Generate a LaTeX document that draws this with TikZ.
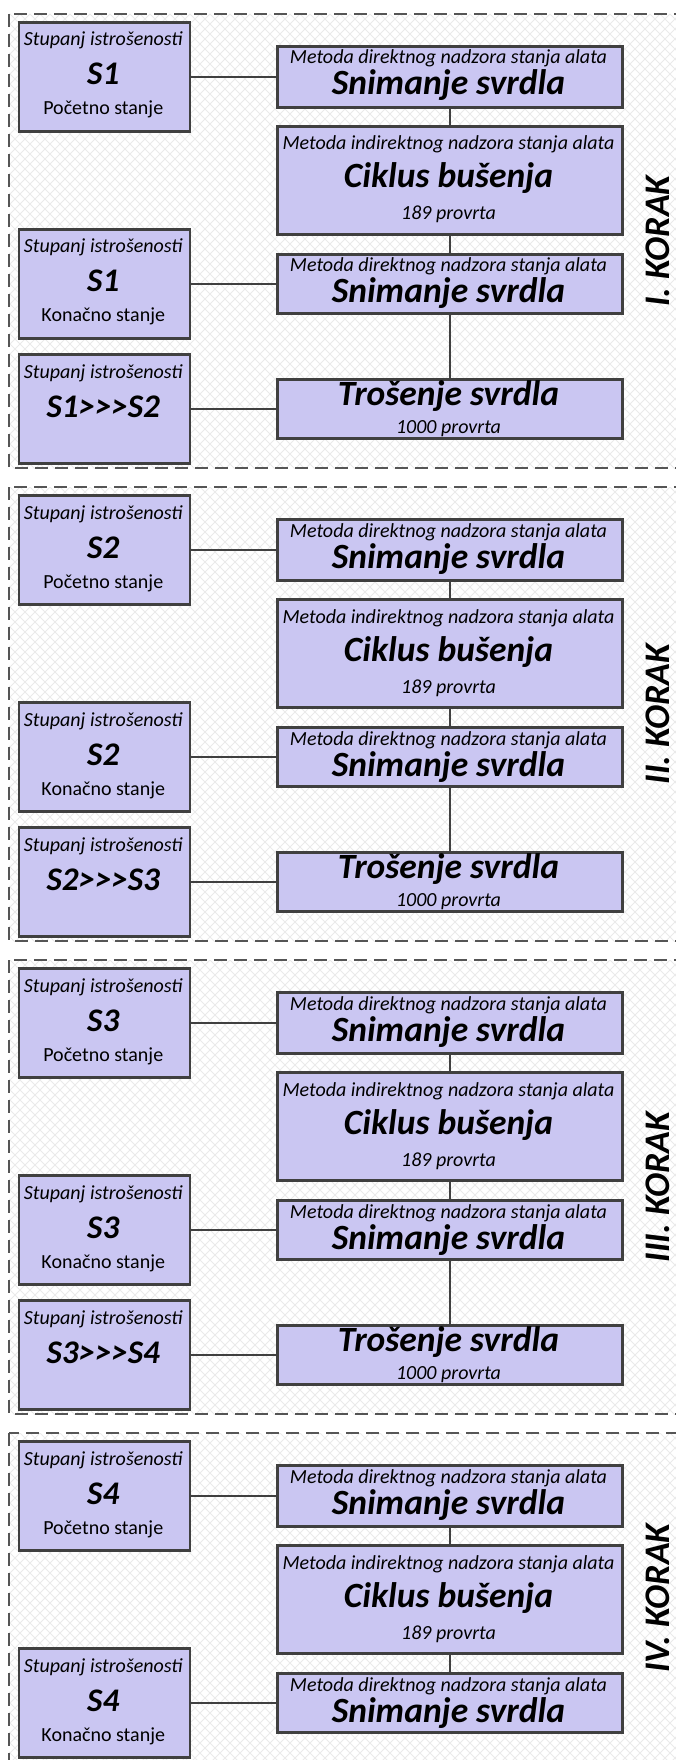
\documentclass[tikz,border=0pt]{standalone}
\usepackage{fontspec}
\setmainfont{Carlito}
\definecolor{boxfill}{RGB}{202,198,242}
\definecolor{bordercol}{RGB}{64,64,64}
\definecolor{dashcol}{RGB}{85,85,85}
\definecolor{bgcol}{RGB}{234,234,234}
\tikzset{
  box/.style={draw=bordercol, line width=2.6pt, fill=boxfill, rectangle, inner sep=0pt, anchor=north west},
  leftbox/.style={box, minimum width=171pt, minimum height=109pt},
  rightbox/.style={box, minimum width=345pt},
  conn/.style={draw=bordercol, line width=2.4pt},
  grpdash/.style={draw=dashcol, line width=1.6pt, dash pattern=on 13pt off 7pt},
  bgline/.style={draw=bgcol, line width=1pt},
  txt/.style={inner sep=0pt, anchor=base, text=black},
  smallit/.style={txt, font=\fontsize{20}{20}\selectfont\itshape},
  smallrm/.style={txt, font=\fontsize{20}{20}\selectfont},
  stbig/.style={txt, font=\fontsize{33}{33}\selectfont\bfseries\itshape},
  bigbi/.style={txt, font=\fontsize{35.5}{35.5}\selectfont\bfseries\itshape},
  korak/.style={inner sep=0pt, rotate=90, font=\fontsize{36}{36}\selectfont\bfseries\itshape},
}
% #1 id, #2 top, #3 height, #4 state, #5 korak label
\newcommand{\kbase}[5]{%
  \begin{scope}
    \clip (9,#2) rectangle (684,#2+#3);
    \foreach \c in {-500,-490,...,690} {\draw[bgline] (\c,#2) -- ++(500,500);}
    \foreach \c in {0,10,...,1190} {\draw[bgline] (\c,#2) -- ++(-500,500);}
  \end{scope}
  \draw[grpdash] (9,#2) rectangle (684,#2+#3);
  % left boxes
  \node[leftbox] (la#1) at (17.5,#2+7) {};
  \node[smallit] (laa#1) at (103.25,#2+32) {Stupanj istrošenosti};
  \node[stbig] (lab#1) at (103.25,#2+71) {#4};
  \node[smallrm] (lac#1) at (103.25,#2+101) {Početno stanje};
  \node[leftbox] (lb#1) at (17.5,#2+214) {};
  \node[smallit] (lba#1) at (103.25,#2+239) {Stupanj istrošenosti};
  \node[stbig] (lbb#1) at (103.25,#2+278) {#4};
  \node[smallrm] (lbc#1) at (103.25,#2+308) {Konačno stanje};
  % right boxes
  \node[rightbox, minimum height=61pt] (ra#1) at (276,#2+31) {};
  \node[smallit] (raa#1) at (448.5,#2+50) {Metoda direktnog nadzora stanja alata};
  \node[bigbi] (rab#1) at (448.5,#2+81) {Snimanje svrdla};
  \node[rightbox, minimum height=108pt] (rb#1) at (276,#2+111) {};
  \node[smallit] (rba#1) at (448.5,#2+136) {Metoda indirektnog nadzora stanja alata};
  \node[bigbi] (rbb#1) at (448.5,#2+174) {Ciklus bušenja};
  \node[smallit] (rbc#1) at (448.5,#2+206) {189 provrta};
  \node[rightbox, minimum height=59pt] (rc#1) at (276,#2+239) {};
  \node[smallit] (rca#1) at (448.5,#2+258) {Metoda direktnog nadzora stanja alata};
  \node[bigbi] (rcb#1) at (448.5,#2+289) {Snimanje svrdla};
  % connectors
  \draw[conn] (la#1.east) -- (ra#1.west);
  \draw[conn] (lb#1.east) -- (rc#1.west);
  \draw[conn] (ra#1.south) -- (rb#1.north);
  \draw[conn] (rb#1.south) -- (rc#1.north);
  % korak label
  \node[korak] (k#1) at (658,#2+#3/2) {#5};
}
% #1 id, #2 top, #3 from, #4 to
\newcommand{\kextra}[4]{%
  \node[leftbox] (lc#1) at (17.5,#2+339) {};
  \node[smallit] (lca#1) at (103.25,#2+364) {Stupanj istrošenosti};
  \node[stbig] (lcb#1) at (103.25,#2+403) {#3>\kern0pt>\kern0pt>#4};
  \node[rightbox, minimum height=59pt] (rd#1) at (276,#2+364) {};
  \node[bigbi] (rda#1) at (448.5,#2+391) {Trošenje svrdla};
  \node[smallit] (rdb#1) at (448.5,#2+419) {1000 provrta};
  \draw[conn] (lc#1.east) -- (rd#1.west);
  \draw[conn] (rc#1.south) -- (rd#1.north);
}
\begin{document}
\begin{tikzpicture}[x=1pt, y=-1pt]
  \useasboundingbox (0,0) rectangle (676,1760);
  \fill[white] (0,0) rectangle (676,1760);
  \kbase{1}{14}{454}{S1}{I. KORAK}
  \kextra{1}{14}{S1}{S2}
  \kbase{2}{487}{454}{S2}{II. KORAK}
  \kextra{2}{487}{S2}{S3}
  \kbase{3}{960}{454}{S3}{III. KORAK}
  \kextra{3}{960}{S3}{S4}
  \kbase{4}{1433}{330}{S4}{IV. KORAK}
\end{tikzpicture}
\end{document}
